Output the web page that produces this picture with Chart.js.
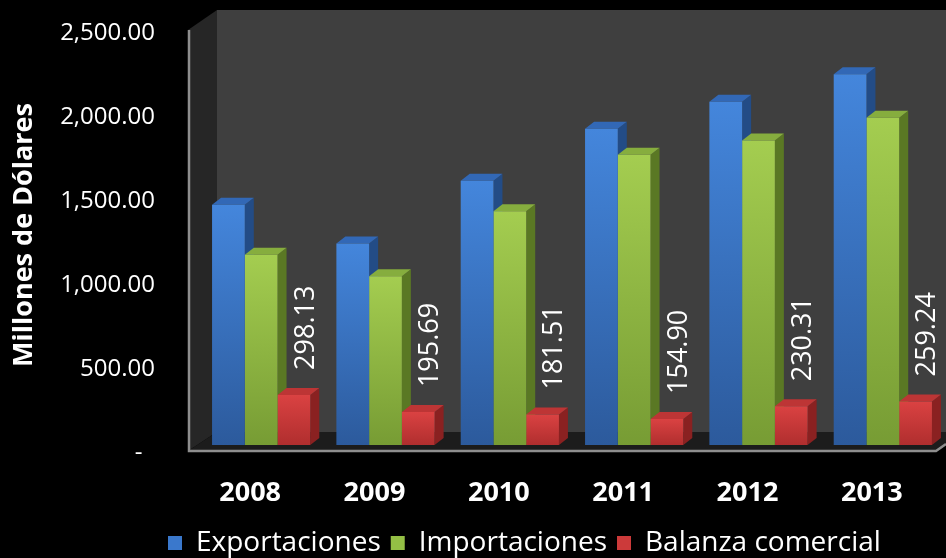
<!DOCTYPE html>
<html><head><meta charset="utf-8">
<script src="https://cdn.jsdelivr.net/npm/chart.js@4.4.1/dist/chart.umd.min.js"></script>
<style>html,body{margin:0;padding:0;background:#000;overflow:hidden}#wrap{width:946px;height:558px;position:relative}</style>
</head><body><div id="wrap"><canvas id="c"></canvas></div>
<script>
const categories = ['2008', '2009', '2010', '2011', '2012', '2013'];
const exportaciones = [1430, 1200, 1573, 1883, 2043, 2207];
const importaciones = [1132, 1004, 1391, 1728, 1813, 1948];
const balanzaComercial = [298.13, 195.69, 181.51, 154.90, 230.31, 259.24];
const seriesNames = ['Exportaciones', 'Importaciones', 'Balanza comercial'];
const yTicks = [0, 500, 1000, 1500, 2000, 2500];
const axisTitle = 'Millones de Dólares';

const FONT = "'Open Sans', 'Noto Sans', sans-serif";
const palette = [
  {top: '#4486dc', bottom: '#2c5a9c', side: '#234c86', cap: '#3268b6', legend: '#3a78cc'},
  {top: '#a4cd50', bottom: '#779c34', side: '#5a7824', cap: '#86ad3e', legend: '#94bf45'},
  {top: '#da4242', bottom: '#b02e2e', side: '#8a2121', cap: '#bd3535', legend: '#cc3a3a'}
];
const DEPTH_X = 9, DEPTH_Y = 7;
const LEGEND_FONT = 28;

function barGradient(i) {
  return (ctx) => {
    const chart = ctx.chart;
    const ys = chart.scales && chart.scales.y;
    if (!ys || ctx.raw === undefined) return palette[i].top;
    const yTop = ys.getPixelForValue(ctx.raw);
    const yBase = ys.getPixelForValue(0);
    if (!isFinite(yTop) || !isFinite(yBase) || yTop === yBase) return palette[i].top;
    const g = chart.ctx.createLinearGradient(0, yTop, 0, yBase);
    g.addColorStop(0, palette[i].top);
    g.addColorStop(1, palette[i].bottom);
    return g;
  };
}

const wallsPlugin = {
  id: 'walls',
  beforeDraw(chart) {
    const c = chart.ctx, ca = chart.chartArea, W = chart.width, Hc = chart.height;
    c.save();
    c.fillStyle = '#000';
    c.fillRect(0, 0, W, Hc);
    const xF = ca.left - 11, xB = ca.left + 18;
    const yTopF = ca.top + 5, yTopB = ca.top - 15;
    const yFloorB = ca.bottom - 13, yFloorF = ca.bottom + 6;
    c.fillStyle = '#3f3f3f';
    c.fillRect(xB, yTopB, W - xB, yFloorB - yTopB);
    c.fillStyle = '#262626';
    c.beginPath(); c.moveTo(xF, yTopF); c.lineTo(xB, yTopB); c.lineTo(xB, yFloorB); c.lineTo(xF, yFloorF); c.closePath(); c.fill();
    c.fillStyle = '#1c1c1c';
    c.beginPath(); c.moveTo(xF, yFloorF); c.lineTo(xB, yFloorB); c.lineTo(W, yFloorB); c.lineTo(W, yFloorF - 7); c.lineTo(W - 10, yFloorF); c.closePath(); c.fill();
    c.strokeStyle = '#8e8e8e';
    c.lineWidth = 2.5;
    c.beginPath(); c.moveTo(xF + 1, yTopF); c.lineTo(xF + 1, yFloorF); c.lineTo(W - 10, yFloorF); c.lineTo(W, yFloorF - 7); c.stroke();
    c.restore();
  }
};

const bar3dPlugin = {
  id: 'bar3d',
  beforeDatasetsDraw(chart) {
    const c = chart.ctx;
    const n = chart.data.labels.length;
    c.save();
    for (let i = 0; i < n; i++) {
      chart.data.datasets.forEach((ds, di) => {
        const el = chart.getDatasetMeta(di).data[i];
        if (!el) return;
        const {x, y, base, width} = el.getProps(['x', 'y', 'base', 'width'], true);
        const L = x - width / 2, R = x + width / 2;
        c.fillStyle = palette[di].side;
        c.beginPath(); c.moveTo(R, y); c.lineTo(R + DEPTH_X, y - DEPTH_Y); c.lineTo(R + DEPTH_X, base - DEPTH_Y); c.lineTo(R, base); c.closePath(); c.fill();
        c.fillStyle = palette[di].cap;
        c.beginPath(); c.moveTo(L, y); c.lineTo(L + DEPTH_X, y - DEPTH_Y); c.lineTo(R + DEPTH_X, y - DEPTH_Y); c.lineTo(R, y); c.closePath(); c.fill();
      });
    }
    c.restore();
  },
  afterDatasetsDraw(chart) {
    const c = chart.ctx;
    const meta = chart.getDatasetMeta(2);
    c.save();
    c.fillStyle = '#ffffff';
    c.font = '27px ' + FONT;
    c.textAlign = 'left';
    c.textBaseline = 'middle';
    meta.data.forEach((el, i) => {
      const {x, y} = el.getProps(['x', 'y'], true);
      c.save();
      c.translate(x + 12, y - 25);
      c.rotate(-Math.PI / 2);
      c.fillText(balanzaComercial[i].toFixed(2), 0, 0);
      c.restore();
    });
    c.restore();
  },
  afterLayout(chart) {
    const lg = chart.legend;
    if (!lg || !lg.lineWidths) return;
    const p = lg.options.labels.padding;
    const start = (lg.left + p + lg.right - lg.lineWidths[0]) / 2;
    const dx = 168 - start;
    lg.left += dx; lg.right += dx;
    lg.top += 9; lg.bottom += 9;
  }
};

const seriesData = [exportaciones, importaciones, balanzaComercial];

new Chart(document.getElementById('c'), {
  type: 'bar',
  data: {
    labels: categories,
    datasets: seriesNames.map((name, i) => ({
      label: name,
      data: seriesData[i],
      backgroundColor: barGradient(i),
      borderWidth: 0,
      barPercentage: 1,
      categoryPercentage: 0.79
    }))
  },
  options: {
    responsive: true,
    maintainAspectRatio: false,
    animation: false,
    events: [],
    layout: {padding: {top: 25, bottom: 0, left: 0, right: 1}},
    scales: {
      x: {
        grid: {display: false, drawTicks: true, tickLength: 32},
        border: {display: false},
        ticks: {
          color: '#ffffff',
          font: {family: FONT, size: 27, weight: 'bold'},
          padding: 0,
          labelOffset: -11,
          maxRotation: 0
        },
        afterFit: (s) => { s.height = 65; }
      },
      y: {
        min: 0,
        max: 2500,
        grid: {display: false, drawTicks: true, tickLength: 44},
        border: {display: false},
        ticks: {
          color: '#ffffff',
          font: {family: FONT, size: 24},
          padding: 0,
          labelOffset: 8,
          callback: (v) => v === 0 ? '-  ' : Number(v).toLocaleString('en-US', {minimumFractionDigits: 2, maximumFractionDigits: 2})
        },
        afterBuildTicks: (s) => { s.ticks = yTicks.map(v => ({value: v})); },
        title: {
          display: true,
          text: axisTitle,
          color: '#ffffff',
          font: {family: FONT, size: 27, weight: 'bold'},
          padding: {top: 8, bottom: 0}
        },
        afterFit: (s) => { s.width = 199; }
      }
    },
    plugins: {
      tooltip: {enabled: false},
      legend: {
        position: 'bottom',
        labels: {
          color: '#ffffff',
          font: {family: FONT, size: LEGEND_FONT},
          boxWidth: 14,
          boxHeight: 14,
          padding: 10,
          generateLabels: (chart) => chart.data.datasets.map((ds, i) => ({
            text: ds.label,
            fillStyle: palette[i].legend,
            strokeStyle: palette[i].legend,
            lineWidth: 0,
            hidden: false,
            datasetIndex: i,
            fontColor: '#ffffff'
          }))
        }
      }
    }
  },
  plugins: [wallsPlugin, bar3dPlugin]
});
</script>
</body></html>
